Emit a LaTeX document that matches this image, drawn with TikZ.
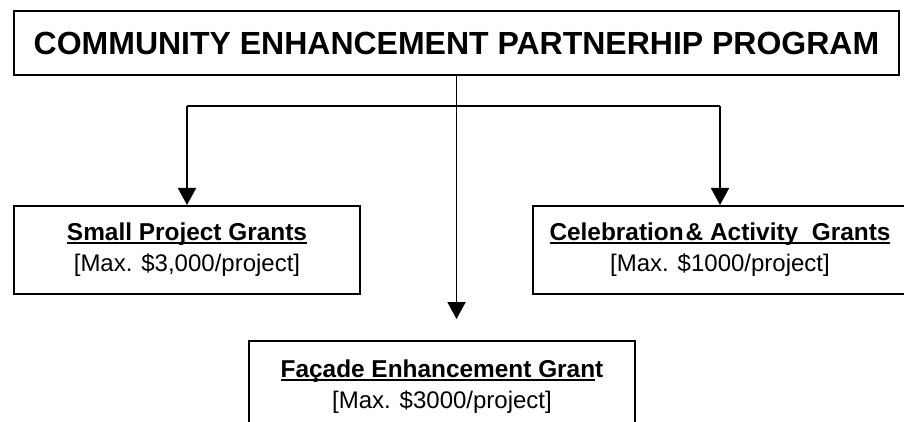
\documentclass[tikz,border=0pt]{standalone}
\usepackage{fontspec}
\setmainfont{Liberation Sans}
\usetikzlibrary{arrows.meta}
\newcommand\myul[1]{\setbox0\hbox{#1}\rlap{\rule[-3pt]{\wd0}{2pt}}\box0}
\begin{document}
\begin{tikzpicture}[x=1pt,y=-1pt,
  box/.style={draw, line width=2pt, inner sep=0pt, align=center, anchor=north west,
              font=\fontsize{24}{31}\selectfont},
  conn/.style={line width=1.9pt},
  arr/.style={conn, -{Triangle[length=17pt,width=18pt]}}]
\useasboundingbox (0,0) rectangle (904,422);
\node[box, minimum width=885pt, minimum height=64pt,
      font=\fontsize{32}{36}\selectfont\bfseries] (title) at (13,10)
  {COMMUNITY ENHANCEMENT PARTNERHIP PROGRAM};
\node[box, minimum width=346pt, minimum height=88pt] (small) at (13,205)
  {\myul{\fontsize{24.4}{31}\selectfont\bfseries Small Project Grants}\\{}[Max. \$3,000/project]};
\node[box, minimum width=374pt, minimum height=88pt] (celeb) at (532,205)
  {\myul{\fontsize{24.4}{31}\selectfont\bfseries Celebration\kern2pt\& Activity\ \ Grants}\\{}[Max. \$1000/project]};
\node[box, minimum width=386pt, minimum height=92pt] (facade) at (248,340)
  {\myul{\fontsize{24.4}{31}\selectfont\bfseries Façade Enhancement Gran}{\fontsize{24.4}{31}\selectfont\bfseries t}\\{}[Max. \$3000/project]};
\coordinate (bar) at (455,106);
\draw[conn] (small.north |- bar) -- (celeb.north |- bar);
\draw[arr] (small.north |- bar) -- (small.north);
\draw[arr] (celeb.north |- bar) -- (celeb.north);
\draw[arr, shorten >=21pt] (title.south) -- (title.south |- facade.north);
\end{tikzpicture}
\end{document}
